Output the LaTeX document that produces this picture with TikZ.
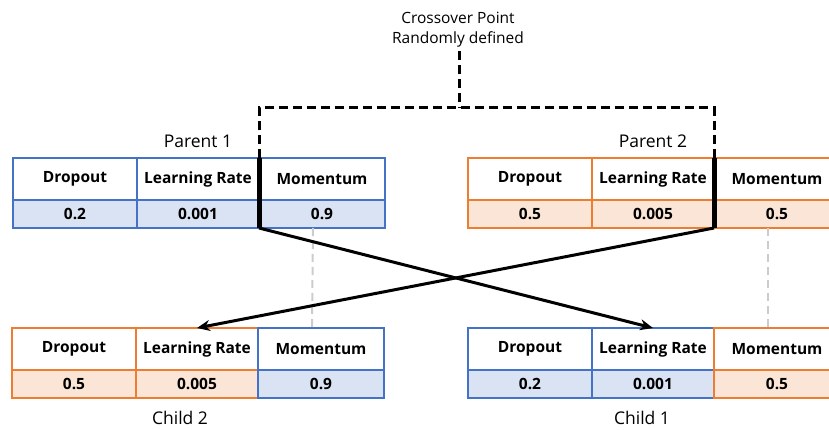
\documentclass[tikz,border=0pt]{standalone}
\usepackage{fontspec}
\setmainfont{Open Sans}
\usetikzlibrary{positioning, arrows.meta, calc}
\definecolor{borderblue}{RGB}{68, 114, 196}
\definecolor{boxblue}{RGB}{218, 227, 243}
\definecolor{borderorange}{RGB}{237, 125, 49}
\definecolor{boxorange}{RGB}{251, 229, 214}

\begin{document}
\begin{tikzpicture}[
    x=1pt, y=-1pt,
    font=\fontsize{15.5}{18}\selectfont\bfseries,
    node distance=0pt and 0pt,
    cell/.style={rectangle, draw, line width=1.5pt, outer sep=0pt, inner sep=0pt},
    hdr/.style={cell, fill=white, minimum height=42pt},
    val/.style={cell, minimum height=28pt},
    wa/.style={minimum width=124pt},
    wb/.style={minimum width=122pt},
    wc/.style={minimum width=126pt},
    bluehdr/.style={hdr, draw=borderblue},
    blueval/.style={val, draw=borderblue, fill=boxblue},
    orghdr/.style={hdr, draw=borderorange},
    orgval/.style={val, draw=borderorange, fill=boxorange},
    lbl/.style={font=\fontsize{17.5}{20}\selectfont},
    xline/.style={line width=3pt, dash pattern=on 9pt off 5pt},
    cutline/.style={line width=5pt},
    swap/.style={-{Stealth[length=13pt, width=11pt]}, line width=3pt},
    keep/.style={draw=black!20, line width=2pt, dash pattern=on 8pt off 5pt}
]
\useasboundingbox (0,0) rectangle (829,430);
\clip (0,0) rectangle (829,430);

% =========== parents ===========
\node[bluehdr, wa, anchor=north west] (p1drop) at (13,158) {Dropout};
\node[bluehdr, wb, right=of p1drop]   (p1lr)   {Learning Rate};
\node[bluehdr, wc, right=of p1lr]     (p1mom)  {Momentum};
\node[blueval, wa, below=of p1drop]   (p1dropv) {0.2};
\node[blueval, wb, right=of p1dropv]  (p1lrv)  {0.001};
\node[blueval, wc, right=of p1lrv]    (p1momv) {0.9};
\node[lbl, above=7pt of p1lr]         (p1lbl)  {Parent 1};

\node[orghdr, wa, anchor=north west] (p2drop) at (468,158) {Dropout};
\node[orghdr, wb, right=of p2drop]   (p2lr)   {Learning Rate};
\node[orghdr, wc, right=of p2lr]     (p2mom)  {Momentum};
\node[orgval, wa, below=of p2drop]   (p2dropv) {0.5};
\node[orgval, wb, right=of p2dropv]  (p2lrv)  {0.005};
\node[orgval, wc, right=of p2lrv]    (p2momv) {0.5};
\node[lbl, above=7pt of p2lr]        (p2lbl)  {Parent 2};

% =========== children ===========
\node[orghdr, wa, anchor=north west] (c2drop) at (12,328) {Dropout};
\node[orghdr, wb, right=of c2drop]   (c2lr)   {Learning Rate};
\node[bluehdr, wc, right=of c2lr]    (c2mom)  {Momentum};
\node[orgval, wa, below=of c2drop]   (c2dropv) {0.5};
\node[orgval, wb, right=of c2dropv]  (c2lrv)  {0.005};
\node[blueval, wc, right=of c2lrv]   (c2momv) {0.9};
\node[lbl, below=10pt of c2lrv, xshift=-17pt] (c2lbl) {Child 2};

\node[bluehdr, wa, anchor=north west] (c1drop) at (468,328) {Dropout};
\node[bluehdr, wb, right=of c1drop]   (c1lr)   {Learning Rate};
\node[orghdr, wc, right=of c1lr]      (c1mom)  {Momentum};
\node[blueval, wa, below=of c1drop]   (c1dropv) {0.2};
\node[blueval, wb, right=of c1dropv]  (c1lrv)  {0.001};
\node[orgval, wc, right=of c1lrv]     (c1momv) {0.5};
\node[lbl, below=10pt of c1lrv, xshift=-11pt] (c1lbl) {Child 1};

% crossover point
\node[font=\fontsize{15.5}{20}\selectfont, align=center] (xover) at (458,30)
    {Crossover Point\\Randomly defined};
\coordinate (xtop) at (459,108);
\draw[xline] (xtop |- xover.south) -- (xtop);
\draw[xline] (p1lr.north east) |- (xtop) -| (p2lr.north east);

% momentum stays in place
\draw[keep] ([xshift=-9pt]p1momv.south) -- ([xshift=-9pt]c2mom.north);
\draw[keep] ([xshift=-9pt]p2momv.south) -- ([xshift=-9pt]c1mom.north);

% cut and swap
\draw[cutline] (p1lr.north east) -- (p1lrv.south east);
\draw[cutline] (p2lr.north east) -- (p2lrv.south east);
\draw[swap] (p1lrv.south east) -- (c1lr.north);
\draw[swap] (p2lrv.south east) -- (c2lr.north);

\end{tikzpicture}
\end{document}
